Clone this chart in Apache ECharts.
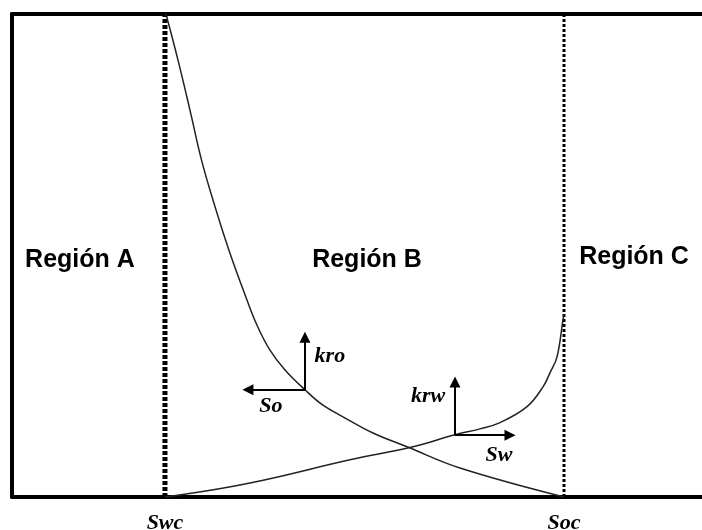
<!DOCTYPE html>
<html>
<head>
<meta charset="utf-8">
<script src="https://cdn.jsdelivr.net/npm/echarts@6/dist/echarts.min.js"></script>
<style>html,body{margin:0;padding:0;background:#fff}#c{width:702px;height:530px}</style>
</head>
<body>
<div id="c"></div>
<script>
// Saturation limits
var swc = 0.2;
var soc = 0.8;
var boundaryLabels = ['Swc', 'Soc'];

// kro curve [Sw, kr]
var kroCurve = [
  [0.2015, 1.000], [0.2195, 0.905], [0.2376, 0.801], [0.2549, 0.698],
  [0.2722, 0.615], [0.2962, 0.511], [0.3233, 0.408], [0.3383, 0.356],
  [0.3579, 0.304], [0.3805, 0.263], [0.4105, 0.222], [0.4376, 0.190],
  [0.4677, 0.166], [0.5128, 0.1325], [0.5639, 0.104], [0.6436, 0.060],
  [0.800, 0.000]
];
// krw curve [Sw, kr]
var krwCurve = [
  [0.200, 0.000], [0.3278, 0.029], [0.4782, 0.077], [0.5729, 0.104],
  [0.6361, 0.129], [0.6737, 0.141], [0.7038, 0.154], [0.7444, 0.187],
  [0.7684, 0.228], [0.7789, 0.257], [0.7895, 0.290], [0.7985, 0.367],
  [0.800, 0.378]
];
// direction arrows [from, to]
var arrows = [
  [[0.4105, 0.222], [0.4105, 0.331]],
  [[0.4105, 0.222], [0.3248, 0.222]],
  [[0.6361, 0.128], [0.6361, 0.238]],
  [[0.6361, 0.128], [0.7188, 0.128]]
];
// annotation texts and anchors
var symbolNames = ['kro', 'So', 'krw', 'Sw'];
var symbolAnchors = [[0.448, 0.291], [0.3594, 0.187], [0.5955, 0.208], [0.7023, 0.087]];
var regionNames = ['Región A', 'Región B', 'Región C'];
var regionAnchors = [[0.0722, 0.490], [0.5038, 0.490], [0.9053, 0.497]];

var chart = echarts.init(document.getElementById('c'), null, {renderer: 'canvas'});
var serif = '"Liberation Serif", "Times New Roman", serif';
var sans = '"Liberation Sans", Arial, sans-serif';
var frame = {show: true, onZero: false, lineStyle: {color: '#000', width: 4}};

chart.setOption({
  animation: false,
  backgroundColor: '#fff',
  grid: {left: 12, top: 14, right: 0, bottom: 33, show: false, containLabel: false, outerBoundsMode: 'none'},
  xAxis: [{
    type: 'value', min: -0.03, max: 1.0075, position: 'bottom',
    axisLine: frame, axisTick: {show: false}, splitLine: {show: false},
    axisLabel: {
      customValues: [swc, soc],
      formatter: function (v) { return Math.abs(v - swc) < 1e-6 ? boundaryLabels[0] : boundaryLabels[1]; },
      margin: 15, color: '#000', fontFamily: serif, fontWeight: 'bold', fontStyle: 'italic', fontSize: 22
    }
  }, {
    type: 'value', min: -0.03, max: 1.0075, position: 'top',
    axisLine: frame, axisTick: {show: false}, splitLine: {show: false}, axisLabel: {show: false}
  }],
  yAxis: {
    type: 'value', min: 0, max: 1, position: 'left',
    axisLine: frame, axisTick: {show: false}, splitLine: {show: false}, axisLabel: {show: false}
  },
  series: [
    {type: 'line', data: [[swc, 0], [swc, 1]], symbol: 'none', lineStyle: {color: '#000', width: 5, type: [4, 2]}, z: 3},
    {type: 'line', data: [[soc, 0], [soc, 1]], symbol: 'none', lineStyle: {color: '#000', width: 3, type: [3, 2]}, z: 3},
    {type: 'line', data: kroCurve, symbol: 'none', smooth: 0.4, lineStyle: {color: '#222', width: 1.5}, z: 4},
    {type: 'line', data: krwCurve, symbol: 'none', smooth: 0.4, lineStyle: {color: '#222', width: 1.5}, z: 4},
    {
      type: 'lines', coordinateSystem: 'cartesian2d',
      data: arrows.map(function (a) { return {coords: a}; }),
      symbol: ['none', 'triangle'], symbolSize: [8, 11],
      lineStyle: {color: '#000', width: 2, opacity: 1}, z: 5
    },
    {
      type: 'scatter', symbolSize: 0, z: 6, itemStyle: {opacity: 1},
      data: symbolAnchors.map(function (p, i) { return {value: p, name: symbolNames[i]}; }),
      label: {show: true, position: 'inside', formatter: '{b}', color: '#000', opacity: 1, textBorderWidth: 0, fontFamily: serif, fontWeight: 'bold', fontStyle: 'italic', fontSize: 22}
    },
    {
      type: 'scatter', symbolSize: 0, z: 6, itemStyle: {opacity: 1},
      data: regionAnchors.map(function (p, i) { return {value: p, name: regionNames[i]}; }),
      label: {show: true, position: 'inside', formatter: '{b}', color: '#000', opacity: 1, textBorderWidth: 0, fontFamily: sans, fontWeight: 'bold', fontSize: 25}
    }
  ]
});
</script>
</body>
</html>
